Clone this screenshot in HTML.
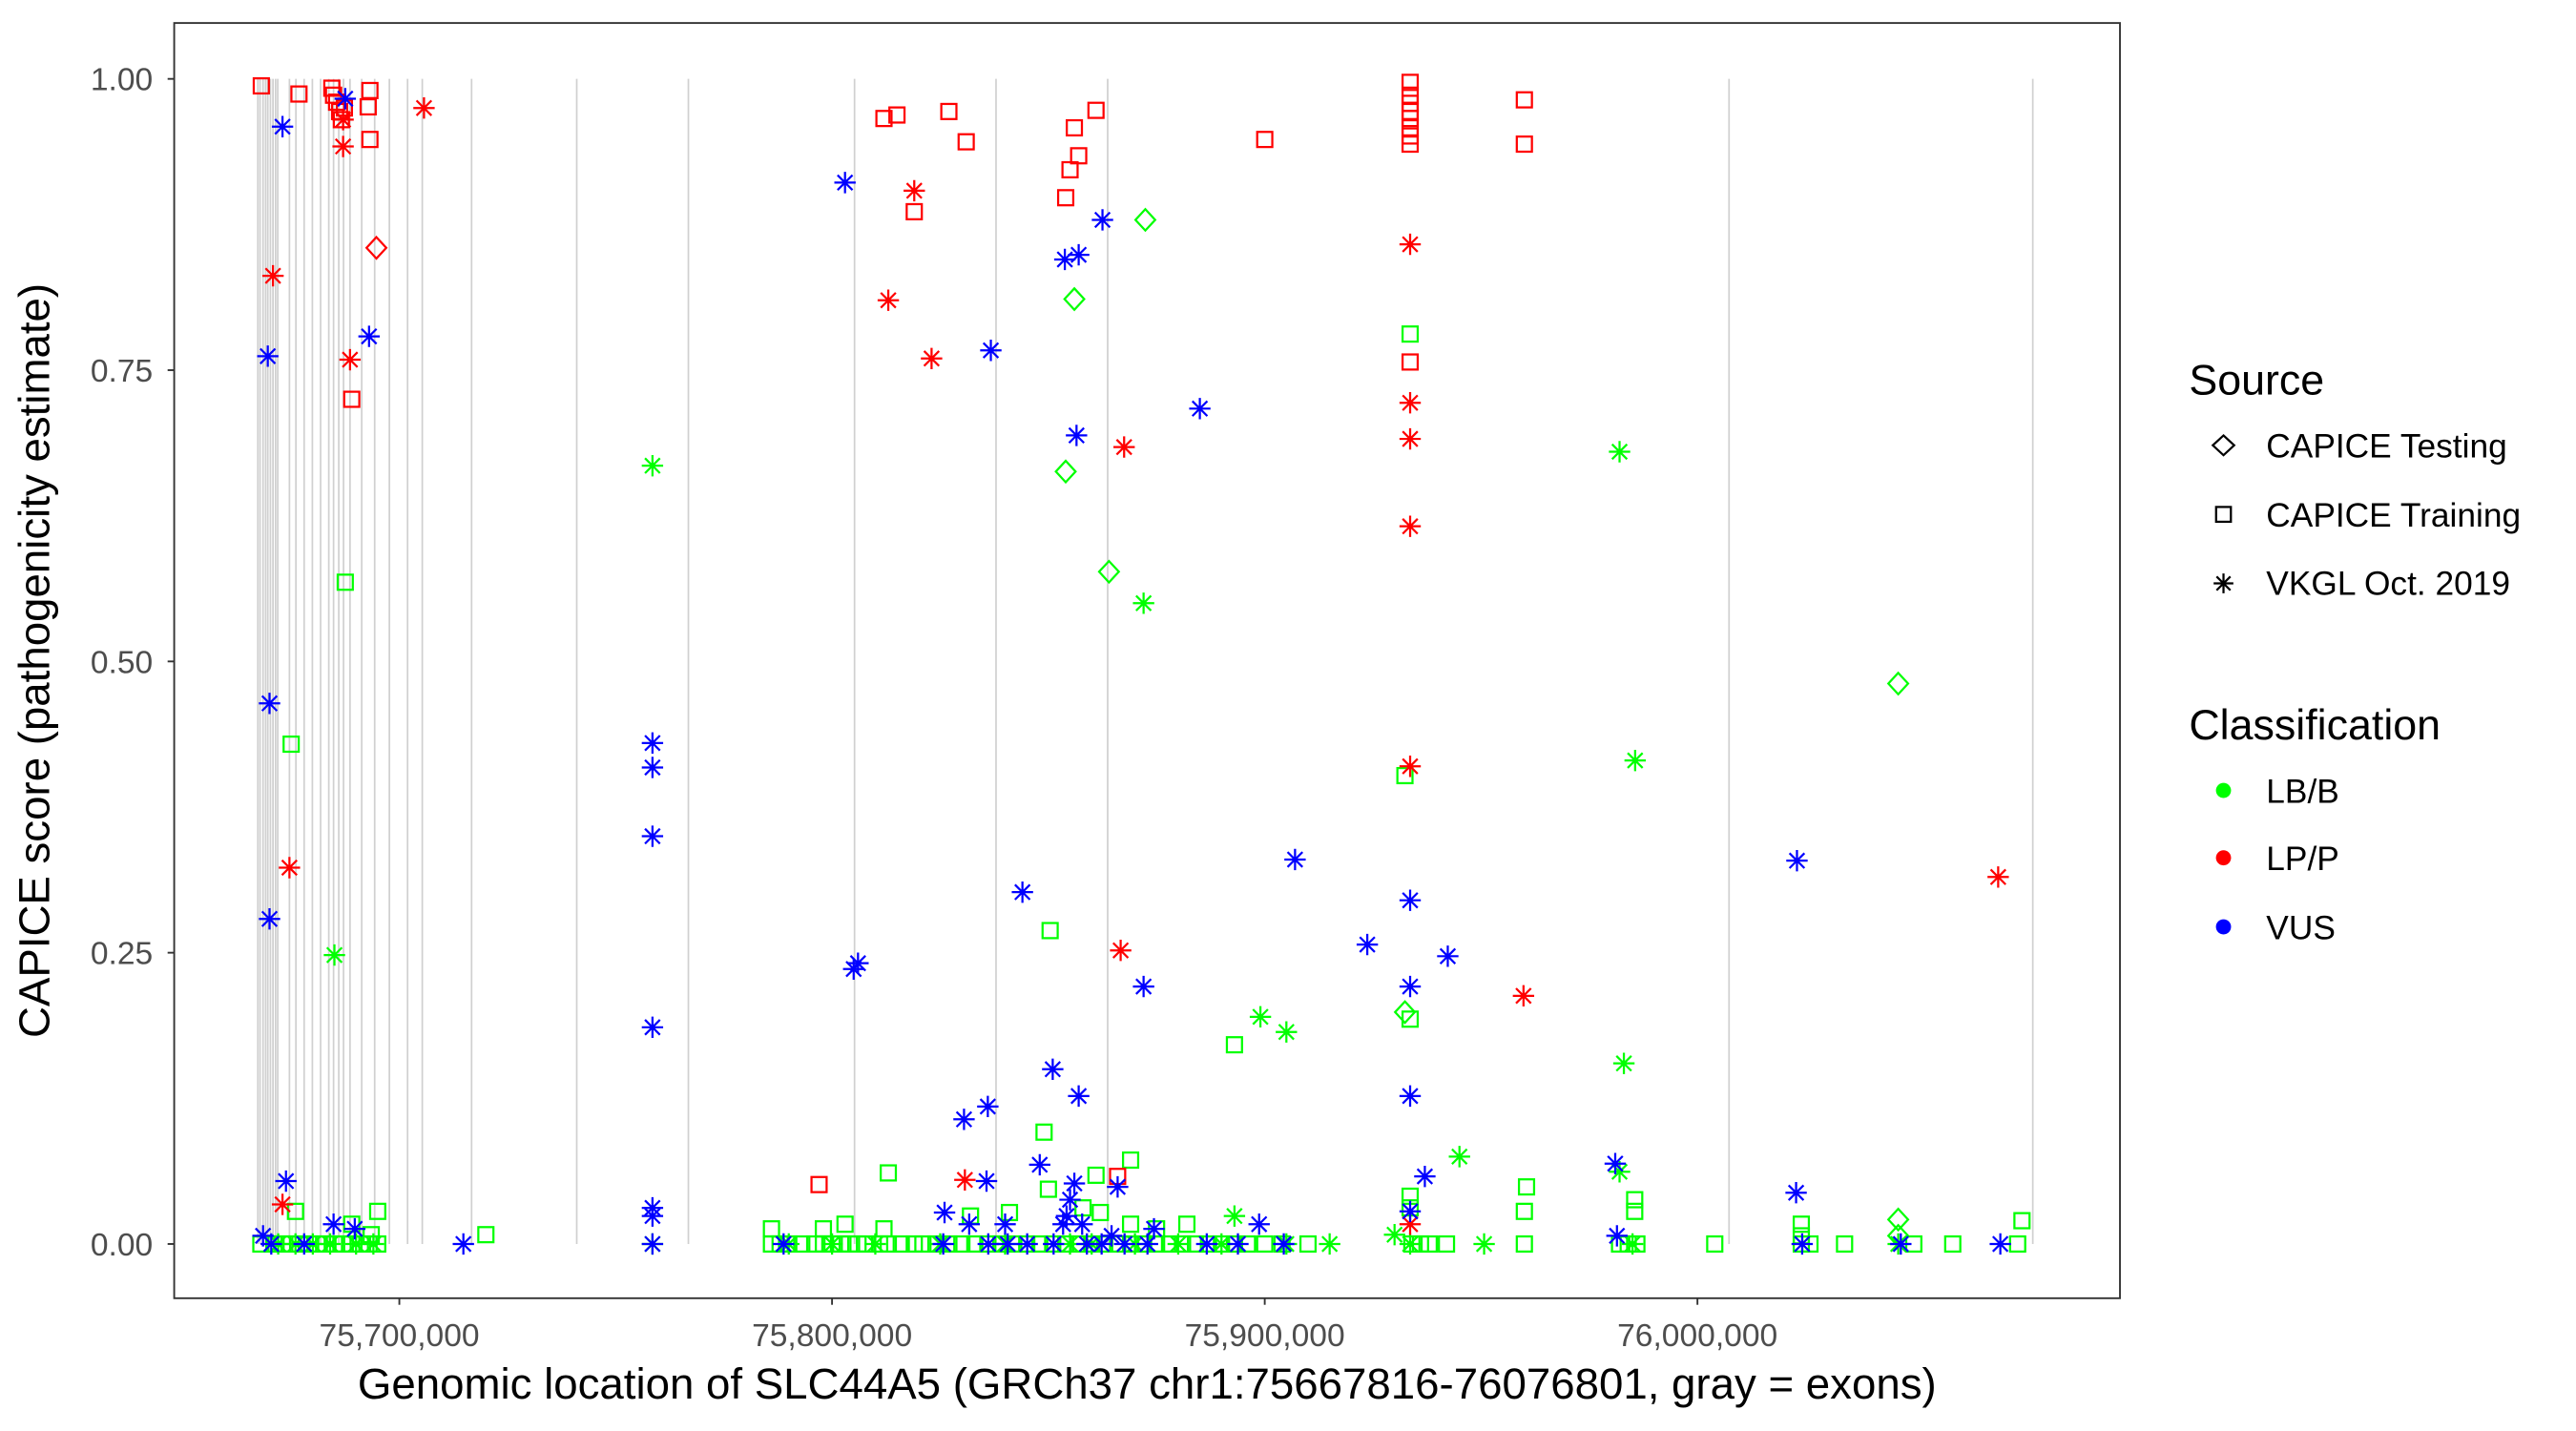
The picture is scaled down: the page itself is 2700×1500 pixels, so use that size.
<!DOCTYPE html>
<html><head><meta charset="utf-8"><style>
html,body{margin:0;padding:0;background:#fff}
svg{display:block}
text{font-family:"Liberation Sans",sans-serif}
</style></head><body>
<svg id="chart" width="2700" height="1500" viewBox="0 0 1567.5 870.8" preserveAspectRatio="none" xmlns="http://www.w3.org/2000/svg">
<rect x="0" y="0" width="1567.5" height="870.8" fill="#fff"/>
<g id="exons"></g>
<g id="marks"></g>
<rect x="106" y="14" width="1184" height="776" fill="none" stroke="#333" stroke-width="1.1"/>
<g id="yaxis"></g>
<g id="xaxis"></g>
<text transform="translate(30,402) rotate(-90)" text-anchor="middle" font-size="26.5">CAPICE score (pathogenicity estimate)</text>
<text x="698" y="851" text-anchor="middle" font-size="26.5">Genomic location of SLC44A5 (GRCh37 chr1:75667816-76076801, gray = exons)</text>
<g>
<text x="1332" y="240" font-size="26">Source</text>
<path d="M1353,265 L1359.5,271 L1353,277 L1346.5,271 Z" fill="none" stroke="#000" stroke-width="1.3"/>
<text x="1379" y="278.5" font-size="20.5">CAPICE Testing</text>
<rect x="1348.5" y="308.5" width="9" height="9" fill="none" stroke="#000" stroke-width="1.3"/>
<text x="1379" y="320.5" font-size="20.5">CAPICE Training</text>
<g id="legstar"></g>
<text x="1379" y="362" font-size="20.5">VKGL Oct. 2019</text>
<text x="1332" y="450" font-size="26">Classification</text>
<circle cx="1353" cy="481" r="4.6" fill="#00ff00"/>
<text x="1379" y="488.5" font-size="20.5">LB/B</text>
<circle cx="1353" cy="522" r="4.6" fill="#ff0000"/>
<text x="1379" y="529.5" font-size="20.5">LP/P</text>
<circle cx="1353" cy="564" r="4.6" fill="#0000ff"/>
<text x="1379" y="571.5" font-size="20.5">VUS</text>
</g>
</svg>
<script>
// positions in kb (genomic position / 1000), scores 0..1
const xTicks = [75700, 75800, 75900, 76000];
const xTickLabels = ["75,700,000", "75,800,000", "75,900,000", "76,000,000"];
const yTicks = [0, 0.25, 0.5, 0.75, 1.0];
const yTickLabels = ["0.00", "0.25", "0.50", "0.75", "1.00"];
const exonPos = [75667.3,75667.8,75668.5,75669.1,75669.6,75670.2,75670.8,75671.4,75671.9,75674.6,75676.1,75678,75679.9,75681.8,75683.7,75684.8,75686,75687.1,75688.6,75691.3,75694.3,75697.7,75701.9,75705.3,75716.7,75741,75766.8,75805.2,75837.9,75863.7,76007.3,76077.5];

const trainLPPos = [75668.1,75676.8,75684.4,75684.8,75685.5,75686.2,75686.6,75687.3,75693.2,75692.8,75693.2,75689,75812,75815,75827,75831,75856,75857,75855,75854,75861,75819,75900,75797,75866,75933.6,75933.6,75933.6,75933.6,75933.6,75933.6,75933.6,75933.6,75933.6,75960,75960];
const trainLPScore = [0.994,0.987,0.992,0.986,0.98,0.972,0.965,0.975,0.99,0.976,0.948,0.725,0.966,0.969,0.972,0.946,0.958,0.934,0.922,0.898,0.973,0.886,0.948,0.051,0.058,0.997,0.986,0.979,0.972,0.966,0.958,0.951,0.944,0.757,0.982,0.944];

const vkglLPPos = [75670.8,75674.6,75673,75687,75687,75688.6,75705.7,75819,75813,75823,75830.7,75866.7,75867.5,75933.6,75933.6,75933.6,75933.6,75933.6,75933.6,75959.8,76069.5];
const vkglLPScore = [0.831,0.323,0.034,0.965,0.942,0.759,0.975,0.904,0.810,0.760,0.055,0.252,0.684,0.858,0.722,0.691,0.616,0.410,0.017,0.213,0.315];

const testLPPos = [75694.7];
const testLPScore = [0.855];

const vkglVUSPos = [75673,75687.5,75669.6,75693,75670,75670,75673.8,75668.5,75670.4,75678,75684.8,75689.7,75714.8,75758.5,75758.5,75758.5,75758.5,75758.5,75758.5,75758.5,75803,75806,75805,75836.7,75844,75851,75857,75830.5,75836,75848,75835.7,75856.5,75853.8,75857,75862.5,75885,75872,75907,75923.7,75933.6,75933.6,75933.6,75933.6,75942.3,75937,75981,76023,76022.8,76070,76024.2,76047,75981.4,75826,75831.7,75840,75836.1,75840.6,75845.1,75851.2,75853.4,75854.2,75855,75856,75857.8,75858.9,75862.3,75864.6,75867.6,75872.9,75874.4,75886.6,75893.8,75898.7,75904.4,75825.7,75788.8,75866];
const vkglVUSScore = [0.959,0.983,0.762,0.779,0.464,0.279,0.054,0.007,0,0,0.017,0.013,0,0.430,0.409,0.350,0.186,0.031,0.024,0,0.911,0.241,0.236,0.767,0.302,0.150,0.127,0.107,0.118,0.068,0.054,0.694,0.845,0.849,0.879,0.717,0.221,0.330,0.257,0.295,0.221,0.127,0.028,0.247,0.058,0.069,0.329,0.044,0,0,0,0.007,0.027,0.017,0.017,0,0,0,0,0.017,0.024,0.038,0.052,0.017,0,0,0.007,0,0,0.013,0,0,0.017,0,0,0,0.049];

const trainLBPos = [75687.5,75675,75850.4,75893,75849,75869,75813,75861,75933.6,75932.4,75933.6,75933.6,75933.6,75960.5,75985.5,75985.5,76024,76075,75695,75676,75720,75786,75798,75803,75812,75832,75841,75850,75858,75862,75869,75875,75882,76024,75960,75689,75693.5,
75668,75671,75673,75675,75677,75679,75681,75683,75685,75687,75689,75691,75693,75695,75786,75788,75790,75793,75796,75798,75800,75802,75804,75806,75808,75811,75813,75816,75819,75821,75824,75827,75830,75833,75836,75839,75842,75845,75848,75851,75854,75857,75860,75863,75866,75869,75872,75875,75878,75881,75884,75887,75890,75893,75896,75900,75904,75910,75934,75936,75938,75942,75960,75982,75984,75986,76004,76024,76026,76034,76050,76059,76074];
const trainLBScore = [0.568,0.429,0.269,0.171,0.096,0.072,0.061,0.059,0.781,0.402,0.193,0.031,0.041,0.049,0.028,0.038,0.017,0.020,0.028,0.028,0.008,0.013,0.013,0.017,0.013,0.024,0.027,0.047,0.031,0.027,0.017,0.013,0.017,0.007,0.028,0.017,0.008,
0,0,0,0,0,0,0,0,0,0,0,0,0,0,0,0,0,0,0,0,0,0,0,0,0,0,0,0,0,0,0,0,0,0,0,0,0,0,0,0,0,0,0,0,0,0,0,0,0,0,0,0,0,0,0,0,0,0,0,0,0,0,0,0,0,0,0,0,0,0,0,0,0];

const vkglLBPos = [75758.5,75982,75872,75985.6,75685,75899,75905,75983,75945,75982,75893,75950.7,75672,75676,75680,75684,75690,75694,75758.5,75790,75800,75810,75825,75840,75855,75860,75870,75880,75890,75905,75915,75930,75933.6,75985,76046.4];
const vkglLBScore = [0.668,0.680,0.550,0.415,0.248,0.195,0.182,0.155,0.075,0.062,0.024,0,0,0,0,0,0,0,0,0,0,0,0,0,0,0,0,0,0,0,0,0.008,0,0,0];

const testLBPos = [75872.4,75856,75854,75864,76046.4,75932.4,76046.4,76046.4];
const testLBScore = [0.879,0.811,0.663,0.577,0.481,0.199,0.021,0.007];

const NS = "http://www.w3.org/2000/svg";
function xScale(kb){ return 243 + (kb - 75700) / 100 * 263.3; }
function yScale(s){ return 757 - s * 709; }
function mk(tag, attrs){ const e = document.createElementNS(NS, tag); for (const k in attrs) e.setAttribute(k, attrs[k]); return e; }

const exG = document.getElementById('exons');
exonPos.forEach(p => {
  const l = mk('line', {x1: xScale(p), x2: xScale(p), y1: yScale(1), y2: yScale(0), stroke: '#d0d0d0', 'stroke-width': 1});
  
  
  exG.appendChild(l);
});

const yG = document.getElementById('yaxis');
yTicks.forEach((v, i) => {
  const y = yScale(v);
  const t = mk('line', {x1: 102, x2: 106, y1: y, y2: y, stroke: '#333', 'stroke-width': 1.1});
  
  
  yG.appendChild(t);
  const tx = mk('text', {x: 93, y: y + 7, 'text-anchor': 'end', 'font-size': 19.5, fill: '#4d4d4d'});
  tx.textContent = yTickLabels[i];
  
  
  yG.appendChild(tx);
});
const xG = document.getElementById('xaxis');
xTicks.forEach((v, i) => {
  const x = xScale(v);
  const t = mk('line', {x1: x, x2: x, y1: 790, y2: 794, stroke: '#333', 'stroke-width': 1.1});
  
  
  xG.appendChild(t);
  const tx = mk('text', {x: x, y: 819, 'text-anchor': 'middle', 'font-size': 19.5, fill: '#4d4d4d'});
  tx.textContent = xTickLabels[i];
  
  
  xG.appendChild(tx);
});

function star(g, cx, cy, col, r){
  const d = `M${cx},${cy-r}V${cy+r}M${cx-r},${cy}H${cx+r}M${cx-r*0.7},${cy-r*0.7}L${cx+r*0.7},${cy+r*0.7}M${cx-r*0.7},${cy+r*0.7}L${cx+r*0.7},${cy-r*0.7}`;
  const p = mk('path', {d: d, stroke: col, 'stroke-width': 1.3, fill: 'none'});
  
  
  g.appendChild(p);
}
function square(g, cx, cy, col){
  const p = mk('rect', {x: cx - 4.6, y: cy - 4.6, width: 9.2, height: 9.2, stroke: col, 'stroke-width': 1.3, fill: 'none'});
  
  
  g.appendChild(p);
}
function diamond(g, cx, cy, col){
  const p = mk('path', {d: `M${cx},${cy-6.5}L${cx+6},${cy}L${cx},${cy+6.5}L${cx-6},${cy}Z`, stroke: col, 'stroke-width': 1.3, fill: 'none'});
  
  
  g.appendChild(p);
}
const mG = document.getElementById('marks');
const G = '#00ff00', R = '#ff0000', B = '#0000ff';
trainLBPos.forEach((p, i) => square(mG, xScale(p), yScale(trainLBScore[i]), G));
vkglLBPos.forEach((p, i) => star(mG, xScale(p), yScale(vkglLBScore[i]), G, 6.5));
testLBPos.forEach((p, i) => diamond(mG, xScale(p), yScale(testLBScore[i]), G));
trainLPPos.forEach((p, i) => square(mG, xScale(p), yScale(trainLPScore[i]), R));
vkglLPPos.forEach((p, i) => star(mG, xScale(p), yScale(vkglLPScore[i]), R, 6.5));
testLPPos.forEach((p, i) => diamond(mG, xScale(p), yScale(testLPScore[i]), R));
vkglVUSPos.forEach((p, i) => star(mG, xScale(p), yScale(vkglVUSScore[i]), B, 6.5));
star(document.getElementById('legstar'), 1353, 355, '#000', 6);
</script>
</body></html>
